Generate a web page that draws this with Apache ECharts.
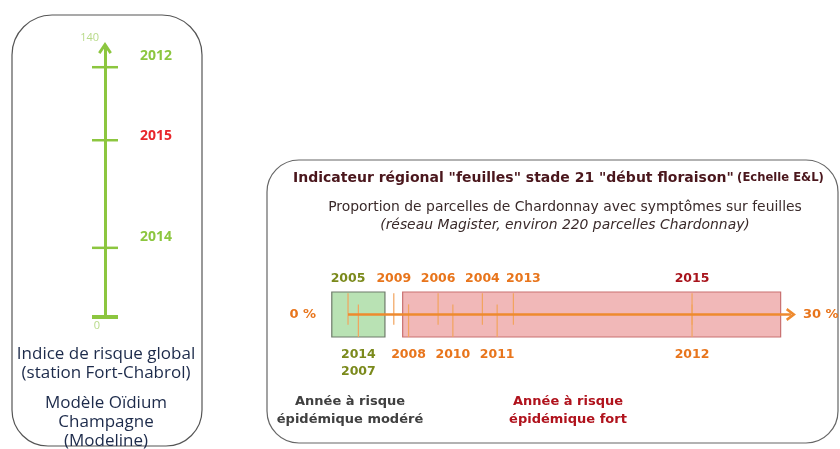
<!DOCTYPE html>
<html lang="fr">
<head>
<meta charset="UTF-8">
<title>Oidium - indicateurs</title>
<script src="https://cdn.jsdelivr.net/npm/echarts@6/dist/echarts.min.js"></script>
<style>html,body{margin:0;background:#fff}#main{width:840px;height:449px}</style>
</head>
<body>
<div id="main"></div>
<script>
// panneau gauche : indice de risque global (modele)
var indexYears = ['2012', '2015', '2014'];
var indexValues = [130, 92, 36];
var indexScale = [0, 140];
var indexScaleLabels = ['0', '140'];

// panneau droit : proportion de parcelles avec symptomes (%)
var leafYearsTop = ['2005', '2009', '2006', '2004', '2013', '2015'];
var leafValuesTop = [0, 3.1, 6.1, 9.1, 11.2, 23.3];
var leafYearsBottom = ['2014', '2007', '2008', '2010', '2011', '2012'];
var leafValuesBottom = [0.7, 0.7, 4.1, 7.1, 10.1, 23.3];
var zoneNames = ['Année à risque\népidémique modéré', 'Année à risque\népidémique fort'];
var zoneStart = [-1.1, 3.7];
var zoneEnd = [2.5, 29.3];
var pctScale = [0, 30];
var pctScaleLabels = ['0 %', '30 %'];
var currentYear = '2015';

var green = '#8cc63f';
var orange = '#ee8a2e';
var verdana = 'DejaVu Sans';

function leafColor(year, v) {
    if (year === currentYear) return '#a8141c';
    return v <= zoneEnd[0] ? '#7b8a1c' : '#e8751c';
}

// regroupe les annees qui tombent sur la meme valeur (2014 / 2007)
function mergeYears(years, values) {
    var out = [];
    for (var i = 0; i < years.length; i++) {
        var last = out[out.length - 1];
        if (last && last.value[0] === values[i]) {
            last.name += '\n' + years[i];
        } else {
            out.push({ name: years[i], value: [values[i]] });
        }
    }
    return out;
}

function tickSeries(years, values, isTop) {
    var items = mergeYears(years, values);
    return {
        type: 'custom',
        xAxisIndex: 1,
        yAxisIndex: 1,
        data: items,
        z: 3,
        renderItem: function (params, api) {
            var v = api.value(0);
            var name = items[params.dataIndex].name;
            // decale un libelle vers la droite s'il chevauche le precedent
            var lx = -1e9;
            for (var j = 0; j <= params.dataIndex; j++) {
                var cx = api.coord([items[j].value[0], 0])[0];
                lx = Math.max(cx, lx + 41);
            }
            var p1 = api.coord([v, isTop ? 0.95 : 0.45]);
            var p2 = api.coord([v, isTop ? -0.45 : -1]);
            var boxTop = api.coord([v, 1])[1];
            var boxBot = api.coord([v, -1])[1];
            return {
                type: 'group',
                children: [{
                    type: 'line',
                    shape: { x1: p1[0], y1: p1[1], x2: p2[0], y2: p2[1] },
                    style: { stroke: '#f2a45e', lineWidth: 1.2 }
                }, {
                    type: 'text',
                    x: lx,
                    y: isTop ? boxTop - 5 : boxBot + 9,
                    style: {
                        text: name,
                        fill: leafColor(name.split('\n')[0], v),
                        font: 'bold 12.5px "' + verdana + '"',
                        align: 'center',
                        verticalAlign: isTop ? 'bottom' : 'top',
                        lineHeight: 17
                    }
                }]
            };
        }
    };
}

var chart = echarts.init(document.getElementById('main'));

var textCol = '#1c2a4a';
var titleCol = '#4a161c';

var option = {
    animation: false,
    backgroundColor: '#fff',
    grid: [
        { left: 105, top: 48, width: 60, height: 269 },
        { left: 318.5, top: 292, width: 502, height: 45 }
    ],
    xAxis: [
        { gridIndex: 0, type: 'value', min: 0, max: 1, show: false },
        { gridIndex: 1, type: 'value', min: -2, max: 32, show: false }
    ],
    yAxis: [
        {
            gridIndex: 0, type: 'value', min: indexScale[0], max: indexScale[1],
            axisLine: {
                show: true, symbol: ['none', 'path://M0,9 L6,0 L12,9 L10,10.5 L6,4.5 L2,10.5 Z'],
                symbolSize: [14, 12],
                lineStyle: { color: green, width: 3 }
            },
            axisTick: { show: false }, axisLabel: { show: false }, splitLine: { show: false }
        },
        { gridIndex: 1, type: 'value', min: -1, max: 1, show: false }
    ],
    graphic: [
        { type: 'rect', shape: { x: 12, y: 15, width: 190, height: 431, r: [40, 40, 36, 36] },
          style: { fill: 'none', stroke: '#555', lineWidth: 1.2 }, z: -1 },
        { type: 'rect', shape: { x: 267, y: 160, width: 571, height: 283, r: 32 },
          style: { fill: 'none', stroke: '#666', lineWidth: 1.2 }, z: -1 },
        { type: 'text', x: 106, y: 364, style: {
            text: 'Indice de risque global\n(station Fort-Chabrol)', fill: textCol,
            font: '17px "Open Sans"', align: 'center', verticalAlign: 'middle', lineHeight: 19 } },
        { type: 'text', x: 106, y: 422, style: {
            text: 'Modèle Oïdium\nChampagne\n(Modeline)', fill: textCol,
            font: '17px "Open Sans"', align: 'center', verticalAlign: 'middle', lineHeight: 19 } },
        { type: 'text', x: 293, y: 178, style: {
            text: '{a|Indicateur régional "feuilles" stade 21 "début floraison"} {b|(Echelle E&L)}',
            verticalAlign: 'middle',
            rich: {
                a: { font: 'bold 14px "' + verdana + '"', fill: titleCol },
                b: { font: 'bold 11.6px "' + verdana + '"', fill: titleCol }
            } } },
        { type: 'text', x: 565, y: 207, style: {
            text: 'Proportion de parcelles de Chardonnay avec symptômes sur feuilles',
            fill: '#3a2a2a', font: '13.9px "' + verdana + '"', align: 'center', verticalAlign: 'middle' } },
        { type: 'text', x: 565, y: 225, style: {
            text: '(réseau Magister, environ 220 parcelles Chardonnay)',
            fill: '#3a2a2a', font: 'italic 13.9px "' + verdana + '"', align: 'center', verticalAlign: 'middle' } },
        { type: 'text', x: 350, y: 411, style: {
            text: zoneNames[0], fill: '#404040', font: 'bold 13px "' + verdana + '"',
            align: 'center', verticalAlign: 'middle', lineHeight: 18 } },
        { type: 'text', x: 568, y: 411, style: {
            text: zoneNames[1], fill: '#b0121c', font: 'bold 13px "' + verdana + '"',
            align: 'center', verticalAlign: 'middle', lineHeight: 18 } }
    ],
    series: [
        // traits des annees sur l'axe de gauche
        {
            type: 'scatter', xAxisIndex: 0, yAxisIndex: 0,
            symbol: 'rect', symbolSize: [26, 2.5],
            itemStyle: { color: green, opacity: 1 },
            data: indexValues.map(function (v, i) {
                var cur = indexYears[i] === currentYear;
                return {
                    value: [0, v],
                    label: { color: cur ? '#e8262b' : green, offset: [0, cur ? -4 : -11] }
                };
            }),
            label: {
                show: true, position: 'right', distance: 22,
                fontFamily: 'Open Sans', fontWeight: 'bold', fontSize: 14,
                formatter: function (p) { return indexYears[p.dataIndex]; }
            },
            z: 3
        },
        // base 0 et libelles d'echelle
        {
            type: 'scatter', xAxisIndex: 0, yAxisIndex: 0,
            symbol: 'rect', symbolSize: [26, 4],
            itemStyle: { color: green, opacity: 1 },
            data: [[0, indexScale[0]]]
        },
        {
            type: 'scatter', xAxisIndex: 0, yAxisIndex: 0, symbolSize: 0,
            data: [
                { value: [0, indexScale[0]], label: { position: 'bottom', distance: 3, offset: [-8, 0] } },
                { value: [0, indexScale[1]], label: { position: 'left', distance: 6, offset: [0, -10] } }
            ],
            label: {
                show: true, color: '#a6d16b', fontFamily: 'Open Sans', fontSize: 11,
                formatter: function (p) { return indexScaleLabels[p.dataIndex]; }
            }
        },
        // zones de risque
        {
            type: 'custom', xAxisIndex: 1, yAxisIndex: 1,
            data: zoneStart.map(function (s, i) { return [s, zoneEnd[i]]; }),
            renderItem: function (params, api) {
                var a = api.coord([api.value(0), 1]);
                var b = api.coord([api.value(1), -1]);
                var moderate = params.dataIndex === 0;
                return {
                    type: 'rect',
                    shape: { x: a[0], y: a[1], width: b[0] - a[0], height: b[1] - a[1] },
                    style: {
                        fill: moderate ? '#b9e2b4' : '#f1b8b8',
                        stroke: moderate ? '#6e7a6a' : '#c97070',
                        lineWidth: 1.2
                    }
                };
            },
            z: 1
        },
        // axe 0 -> 30 %
        {
            type: 'line', xAxisIndex: 1, yAxisIndex: 1,
            data: [
                { value: [pctScale[0], 0], symbol: 'circle', symbolSize: 0,
                  label: { position: 'left', distance: 32 } },
                { value: [pctScale[1], 0], symbol: 'path://M0,9 L6,0 L12,9 L10,10.5 L6,4.5 L2,10.5 Z',
                  symbolSize: [13, 10], symbolRotate: -90,
                  label: { position: 'right', distance: 7 } }
            ],
            showSymbol: true,
            itemStyle: { color: orange },
            lineStyle: { color: orange, width: 2.3 },
            label: {
                show: true, color: '#e8751c', fontFamily: verdana, fontWeight: 'bold', fontSize: 13,
                formatter: function (p) { return pctScaleLabels[p.dataIndex]; }
            },
            z: 4
        },
        tickSeries(leafYearsTop, leafValuesTop, true),
        tickSeries(leafYearsBottom, leafValuesBottom, false)
    ]
};

chart.setOption(option);
</script>
</body>
</html>
